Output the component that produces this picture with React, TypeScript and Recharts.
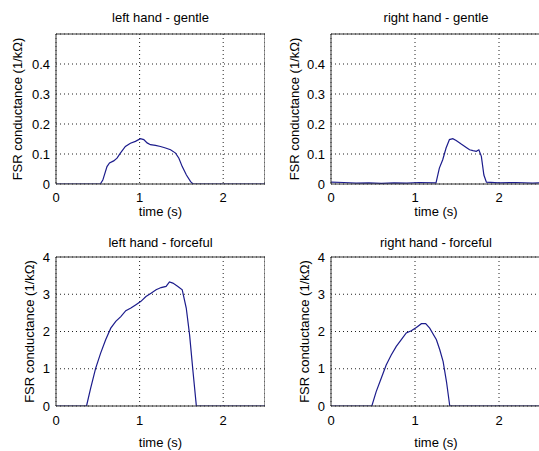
import React from 'react';
import { LineChart, Line, XAxis, YAxis, CartesianGrid, ReferenceLine } from 'recharts';

const FONT = '"Liberation Sans", Arial, Helvetica, sans-serif';
const LINE_COLOR = '#1c1c8c';
const AXIS_COLOR = '#333333';

const xTicks = [0, 1, 2];
const xMax = 2.5;
const gentleYTicks = [0, 0.1, 0.2, 0.3, 0.4];
const gentleYMax = 0.5;
const forcefulYTicks = [0, 1, 2, 3, 4];
const forcefulYMax = 4;

const yLabelText = 'FSR conductance (1/kΩ)';
const xLabelText = 'time (s)';
const panelTitles = ['left hand - gentle', 'right hand - gentle', 'left hand - forceful', 'right hand - forceful'];

const leftGentleTime = [0, 0.53, 0.56, 0.61, 0.64, 0.69, 0.73, 0.77, 0.83, 0.89, 0.95, 1.01, 1.05, 1.09, 1.13, 1.19, 1.25, 1.31, 1.37, 1.43, 1.47, 1.51, 1.56, 1.61, 1.64, 2.5];
const leftGentleValue = [0, 0, 0.013, 0.058, 0.07, 0.077, 0.086, 0.103, 0.125, 0.136, 0.142, 0.151, 0.148, 0.137, 0.131, 0.129, 0.125, 0.12, 0.114, 0.103, 0.086, 0.058, 0.03, 0.008, 0, 0];

const rightGentleTime = [0, 0.15, 0.3, 0.45, 0.6, 0.75, 0.9, 1.05, 1.25, 1.29, 1.33, 1.37, 1.41, 1.45, 1.49, 1.55, 1.61, 1.65, 1.69, 1.73, 1.76, 1.79, 1.82, 1.85, 2.0, 2.2, 2.4, 2.5];
const rightGentleValue = [0.006, 0.005, 0.003, 0.004, 0.002, 0.004, 0.003, 0.005, 0.004, 0.053, 0.081, 0.12, 0.148, 0.151, 0.145, 0.133, 0.122, 0.114, 0.111, 0.109, 0.114, 0.092, 0.03, 0.006, 0.004, 0.005, 0.003, 0.004];

const leftForcefulTime = [0, 0.365, 0.414, 0.474, 0.534, 0.594, 0.655, 0.715, 0.775, 0.835, 0.896, 0.956, 1.016, 1.076, 1.137, 1.197, 1.257, 1.317, 1.357, 1.398, 1.458, 1.51, 1.558, 1.598, 1.639, 1.679, 2.5];
const leftForcefulValue = [0, 0, 0.475, 1.01, 1.42, 1.78, 2.09, 2.27, 2.4, 2.56, 2.63, 2.72, 2.81, 2.94, 3.03, 3.12, 3.18, 3.21, 3.33, 3.3, 3.21, 3.12, 2.63, 1.91, 0.92, 0, 0];

const rightForcefulTime = [0, 0.486, 0.538, 0.598, 0.657, 0.717, 0.777, 0.837, 0.896, 0.956, 1.016, 1.076, 1.127, 1.175, 1.255, 1.295, 1.335, 1.375, 1.414, 2.5];
const rightForcefulValue = [0, 0, 0.386, 0.744, 1.1, 1.37, 1.6, 1.78, 1.96, 2.02, 2.11, 2.21, 2.21, 2.09, 1.78, 1.51, 1.19, 0.65, 0, 0];

type PanelProps = {
  time: number[];
  values: number[];
  title: string;
  yTicks: number[];
  yMax: number;
  left: number;
  top: number;
  yAxisWidth: number;
  plotWidth: number;
  plotHeight: number;
  titleOffset: number;
  yLabelOffset: number;
  xLabelOffset: number;
  xTickMargin: number;
};

const MARGIN_TOP = 34;
const X_AXIS_HEIGHT = 45;

function Panel(p: PanelProps) {
  const data = p.time.map((t, i) => ({ t, v: p.values[i] }));
  const width = p.yAxisWidth + p.plotWidth;
  const height = MARGIN_TOP + p.plotHeight + X_AXIS_HEIGHT;
  const tickStyle = { fill: '#000', fontSize: 13, fontFamily: FONT };
  return (
    <div style={{ position: 'absolute', left: p.left, top: p.top }}>
      <LineChart
        width={width}
        height={height}
        data={data}
        margin={{ top: MARGIN_TOP, right: 0, bottom: 0, left: 0 }}
        style={{ fontFamily: FONT }}
      >
        <CartesianGrid strokeDasharray="1 3" stroke="#222" />
        <XAxis
          dataKey="t"
          type="number"
          domain={[0, xMax]}
          ticks={xTicks}
          allowDataOverflow
          height={X_AXIS_HEIGHT}
          tickLine={false}
          tickSize={6}
          tickMargin={p.xTickMargin}
          axisLine={{ stroke: AXIS_COLOR }}
          tick={tickStyle}
          label={{ value: xLabelText, position: 'insideBottom', offset: p.xLabelOffset, fill: '#000', fontSize: 13, fontFamily: FONT }}
        />
        <YAxis
          type="number"
          domain={[0, p.yMax]}
          ticks={p.yTicks}
          allowDataOverflow
          width={p.yAxisWidth}
          tickLine={false}
          tickSize={4}
          tickMargin={2}
          axisLine={{ stroke: AXIS_COLOR }}
          tick={tickStyle}
          label={{
            value: yLabelText,
            angle: -90,
            position: 'insideLeft',
            offset: p.yLabelOffset,
            fill: '#000',
            fontSize: 13,
            fontFamily: FONT,
            style: { textAnchor: 'middle' },
          }}
        />
        <ReferenceLine
          y={p.yMax}
          stroke={AXIS_COLOR}
          label={{ value: p.title, position: 'top', offset: p.titleOffset, fill: '#000', fontSize: 13, fontFamily: FONT }}
        />
        <ReferenceLine x={xMax} stroke={AXIS_COLOR} />
        <Line
          type="linear"
          dataKey="v"
          stroke={LINE_COLOR}
          strokeWidth={1.2}
          dot={false}
          isAnimationActive={false}
        />
      </LineChart>
    </div>
  );
}

export default function App() {
  return (
    <div
      style={{
        position: 'absolute',
        left: 0,
        top: 0,
        width: 539,
        height: 451,
        overflow: 'hidden',
        background: '#fff',
        fontFamily: FONT,
      }}
    >
      <Panel
        time={leftGentleTime}
        values={leftGentleValue}
        title={panelTitles[0]}
        yTicks={gentleYTicks}
        yMax={gentleYMax}
        left={0}
        top={0}
        yAxisWidth={56}
        plotWidth={209}
        plotHeight={150}
        titleOffset={12}
        yLabelOffset={17}
        xLabelOffset={13}
        xTickMargin={2.5}
      />
      <Panel
        time={rightGentleTime}
        values={rightGentleValue}
        title={panelTitles[1]}
        yTicks={gentleYTicks}
        yMax={gentleYMax}
        left={270}
        top={0}
        yAxisWidth={61}
        plotWidth={210}
        plotHeight={150}
        titleOffset={12}
        yLabelOffset={24}
        xLabelOffset={13}
        xTickMargin={2.5}
      />
      <Panel
        time={leftForcefulTime}
        values={leftForcefulValue}
        title={panelTitles[2]}
        yTicks={forcefulYTicks}
        yMax={forcefulYMax}
        left={0}
        top={223}
        yAxisWidth={56}
        plotWidth={209}
        plotHeight={149}
        titleOffset={10}
        yLabelOffset={29}
        xLabelOffset={4}
        xTickMargin={4}
      />
      <Panel
        time={rightForcefulTime}
        values={rightForcefulValue}
        title={panelTitles[3]}
        yTicks={forcefulYTicks}
        yMax={forcefulYMax}
        left={270}
        top={223}
        yAxisWidth={61}
        plotWidth={210}
        plotHeight={149}
        titleOffset={10}
        yLabelOffset={34}
        xLabelOffset={4}
        xTickMargin={4}
      />
    </div>
  );
}
